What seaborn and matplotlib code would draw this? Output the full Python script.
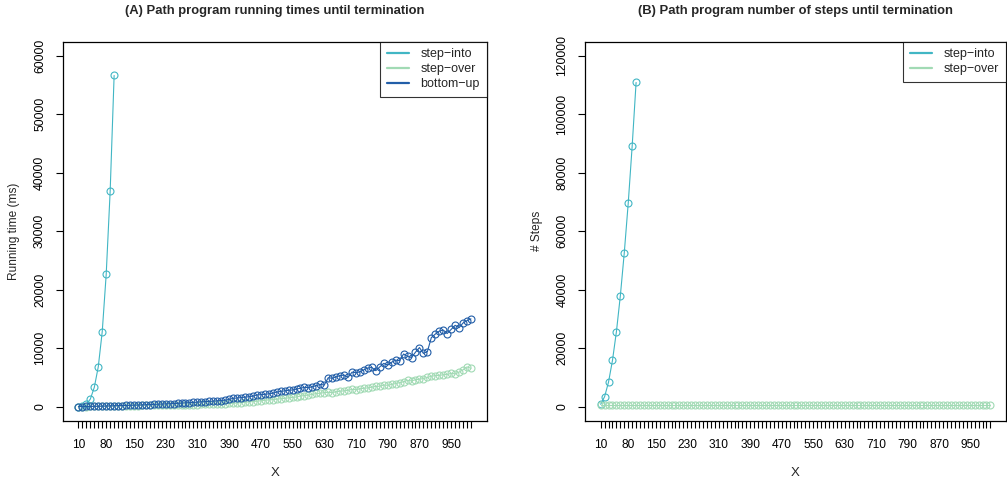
import matplotlib
matplotlib.use("Agg")
import matplotlib.pyplot as plt
from matplotlib.lines import Line2D
import numpy as np
import seaborn as sns

# x values: 10, 20, ..., 1000
x_all = list(range(10, 1001, 10))
x_into = list(range(10, 101, 10))
tick_labels = [10, 80, 150, 230, 310, 390, 470, 550, 630, 710, 790, 870, 950]

# (A) running times (ms)
time_step_into = [20, 100, 400, 1300, 3300, 6800, 12800, 22600, 36800, 56600]
time_step_over = [
    10, 15, 20, 30, 40, 50, 60, 75, 90, 100,
    115, 130, 145, 160, 175, 190, 210, 230, 250, 270,
    200, 215, 230, 245, 260, 275, 290, 305, 320, 340,
    360, 380, 400, 420, 440, 460, 490, 520, 550, 580,
    640, 700, 760, 820, 880, 940, 1000, 1100, 1150, 1200,
    1280, 1350, 1420, 1500, 1580, 1660, 1820, 1900, 1980, 2100,
    2250, 2300, 2400, 2450, 2400, 2550, 2650, 2700, 2800, 2950,
    2900, 3050, 3150, 3200, 3350, 3450, 3500, 3700, 3650, 3800,
    3950, 4100, 4250, 4500, 4400, 4600, 4700, 4800, 5000, 5200,
    5300, 5350, 5450, 5500, 5700, 5600, 5900, 6300, 6800, 6550,
]
time_bottom_up = [
    10, 20, 30, 40, 60, 70, 90, 110, 130, 150,
    170, 190, 210, 230, 260, 280, 300, 330, 350, 380,
    410, 440, 470, 500, 530, 560, 600, 640, 680, 720,
    780, 820, 860, 900, 950, 1000, 1050, 1100, 1250, 1420,
    1480, 1550, 1620, 1700, 1800, 2000, 2050, 2100, 2200, 2300,
    2500, 2600, 2700, 2800, 2850, 3000, 3150, 3300, 3250, 3400,
    3600, 3800, 3700, 4950, 4850, 5100, 5300, 5400, 5000, 5900,
    5800, 5950, 6300, 6600, 6700, 6150, 6800, 7400, 7100, 7600,
    7950, 7850, 9000, 8600, 8400, 9300, 10100, 9100, 9400, 11800,
    12400, 12900, 13100, 12500, 13200, 13900, 13500, 14300, 14700, 15000,
]

# (B) number of steps
steps_step_into = [800, 3400, 8400, 15800, 25600, 37900, 52600, 69500, 89000, 110800]
steps_step_over = [
    700, 700, 700, 700, 700, 700, 700, 700, 700, 700,
    700, 700, 700, 700, 700, 700, 700, 700, 700, 700,
    700, 700, 700, 700, 700, 700, 700, 700, 700, 700,
    700, 700, 700, 700, 700, 700, 700, 700, 700, 700,
    700, 700, 700, 700, 700, 700, 700, 700, 700, 700,
    700, 700, 700, 700, 700, 700, 700, 700, 700, 700,
    700, 700, 700, 700, 700, 700, 700, 700, 700, 700,
    700, 700, 700, 700, 700, 700, 700, 700, 700, 700,
    700, 700, 700, 700, 700, 700, 700, 700, 700, 700,
    700, 700, 700, 700, 700, 700, 700, 700, 700, 700,
]

colors = {"step-into": "#41b6c4", "step-over": "#a1dab4", "bottom-up": "#225ea8"}

sns.set_theme(style="white")
plt.rcParams["font.family"] = ["Liberation Sans", "DejaVu Sans"]

fig = plt.figure(figsize=(10.07, 4.83), dpi=100)
ax_a = fig.add_axes([0.0623, 0.129, 0.421, 0.785])
ax_b = fig.add_axes([0.581, 0.129, 0.418, 0.785])


def draw(ax, x, y, name):
    sns.lineplot(x=x, y=y, ax=ax, color=colors[name], linewidth=0.8,
                 marker="o", markersize=5, markerfacecolor="none",
                 markeredgecolor=colors[name], markeredgewidth=0.8)


def style(ax, ymax, ylabel, title, names):
    # R-style 4% padding around the data range
    ax.set_xlim(10 - 0.04 * 990, 1000 + 0.04 * 990)
    ax.set_ylim(-0.04 * ymax, ymax * 1.04)
    ax.set_xticks(x_all)
    ax.set_xticklabels([str(v) if v in tick_labels else "" for v in x_all])
    yt = np.arange(0, ymax + 1, ymax / 6)
    ax.set_yticks(yt)
    ax.set_yticklabels([f"{int(v)}" for v in yt], rotation=90, va="center")
    ax.tick_params(axis="both", direction="out", length=5, width=0.8,
                   colors="black", pad=7, bottom=True, left=True)
    ax.tick_params(axis="x", labelsize=8.6, pad=8)
    ax.tick_params(axis="y", labelsize=8.8)
    for s in ax.spines.values():
        s.set_color("black")
        s.set_linewidth(0.9)
    ax.set_xlabel("X", fontsize=9.5, labelpad=12)
    ax.set_ylabel(ylabel, fontsize=8.6, labelpad=10)
    ax.set_title(title, fontsize=9.4, fontweight="bold", pad=20)

    handles = [Line2D([0], [0], color=colors[n], lw=1.6) for n in names]
    labels = [n.replace("-", "\u2212") for n in names]
    leg = ax.legend(handles, labels, loc="upper right", fontsize=9,
                    frameon=True, fancybox=False, borderaxespad=0,
                    handlelength=1.8, handletextpad=0.9, labelspacing=0.22,
                    borderpad=0.55)
    leg.get_frame().set_edgecolor("black")
    leg.get_frame().set_linewidth(0.8)


draw(ax_a, x_into, time_step_into, "step-into")
draw(ax_a, x_all, time_step_over, "step-over")
draw(ax_a, x_all, time_bottom_up, "bottom-up")
style(ax_a, 60000, "Running time (ms)",
      "(A) Path program running times until termination",
      ["step-into", "step-over", "bottom-up"])

draw(ax_b, x_into, steps_step_into, "step-into")
draw(ax_b, x_all, steps_step_over, "step-over")
style(ax_b, 120000, "# Steps",
      "(B) Path program number of steps until termination",
      ["step-into", "step-over"])

fig.savefig("out.png", dpi=100)
